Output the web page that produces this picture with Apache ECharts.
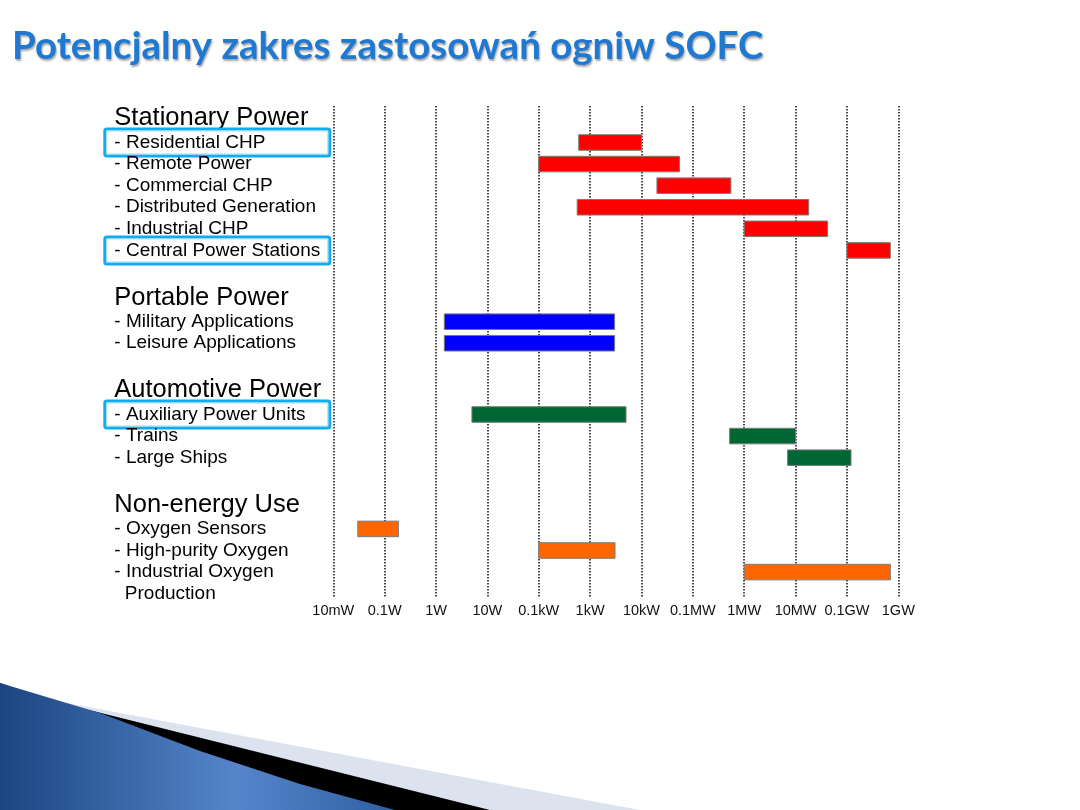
<!DOCTYPE html>
<html>
<head>
<meta charset="utf-8">
<script src="https://cdn.jsdelivr.net/npm/echarts@6/dist/echarts.min.js"></script>
<style>
  html, body { margin: 0; padding: 0; background: #fff; }
  #main { width: 1080px; height: 810px; }
</style>
</head>
<body>
<div id="main"></div>
<script>
// power in watts
var groupNames = ['Stationary Power', 'Portable Power', 'Automotive Power', 'Non-energy Use'];
var groupColors = ['#ff0000', '#0000ff', '#006633', '#ff6600'];

var stationaryItems = ['- Residential CHP', '- Remote Power', '- Commercial CHP', '- Distributed Generation', '- Industrial CHP', '- Central Power Stations'];
var stationaryFrom = [600, 100, 20000, 560, 1e6, 1e8];
var stationaryTo = [1e4, 55000, 550000, 1.8e7, 4.2e7, 7e8];

var portableItems = ['- Military Applications', '- Leisure Applications'];
var portableFrom = [1.45, 1.45];
var portableTo = [3000, 3000];

var automotiveItems = ['- Auxiliary Power Units', '- Trains', '- Large Ships'];
var automotiveFrom = [5, 5.2e5, 7e6];
var automotiveTo = [5000, 1e7, 1.2e8];

var nonEnergyItems = ['- Oxygen Sensors', '- High-purity Oxygen', '- Industrial Oxygen\n  Production'];
var nonEnergyFrom = [0.03, 100, 1e6];
var nonEnergyTo = [0.185, 3050, 7e8];

var highlighted = ['- Residential CHP', '- Central Power Stations', '- Auxiliary Power Units'];

var tickLabels = ['10mW', '0.1W', '1W', '10W', '0.1kW', '1kW', '10kW', '0.1MW', '1MW', '10MW', '0.1GW', '1GW'];

var groups = [
    [stationaryItems, stationaryFrom, stationaryTo],
    [portableItems, portableFrom, portableTo],
    [automotiveItems, automotiveFrom, automotiveTo],
    [nonEnergyItems, nonEnergyFrom, nonEnergyTo]
];

// rows: one unit per item, extra gap between groups
var GROUP_GAP = 2.3;
var HEADER_OFFSET = 1.2;
var barData = [];
var labelData = [];
var labelTexts = [];
var row = 0;
groups.forEach(function (g, gi) {
    var y0 = row + gi * GROUP_GAP;
    labelTexts.push(groupNames[gi]);
    labelData.push([y0 - HEADER_OFFSET, labelTexts.length - 1, 1, 0]);
    g[0].forEach(function (name, i) {
        var y = y0 + i;
        barData.push([Math.log10(g[1][i]), Math.log10(g[2][i]), y, gi]);
        labelTexts.push(name);
        labelData.push([y, labelTexts.length - 1, 0, highlighted.indexOf(name) >= 0 ? 1 : 0]);
    });
    row += g[0].length;
});

var myChart = echarts.init(document.getElementById('main'));

var option = {
    backgroundColor: '#ffffff',
    animation: false,
    grid: {
        left: 333.3,
        right: 181.7,
        top: 106,
        bottom: 212
    },
    xAxis: {
        type: 'value',
        min: -2,
        max: 9,
        interval: 1,
        axisLine: { show: false },
        axisTick: { show: false },
        axisLabel: {
            margin: 5,
            color: '#111',
            fontSize: 14.5,
            fontFamily: 'Liberation Sans',
            formatter: function (v) { return tickLabels[Math.round(v) + 2]; }
        },
        splitLine: {
            show: true,
            lineStyle: { type: [1.5, 1.5], color: '#111', width: 1.5 }
        }
    },
    yAxis: {
        type: 'value',
        inverse: true,
        min: -1.69,
        max: 21.1,
        show: false
    },
    series: [{
        type: 'custom',
        name: 'ranges',
        data: barData,
        encode: { x: [0, 1], y: 2 },
        renderItem: function (params, api) {
            var a = api.coord([api.value(0), api.value(2)]);
            var b = api.coord([api.value(1), api.value(2)]);
            var h = api.size([0, 0.72])[1];
            return {
                type: 'rect',
                shape: { x: a[0], y: a[1] - h / 2, width: b[0] - a[0], height: h },
                style: { fill: groupColors[api.value(3)], stroke: '#7a7a7a', lineWidth: 1 }
            };
        }
    }, {
        type: 'custom',
        name: 'labels',
        data: labelData,
        encode: { y: 0 },
        renderItem: function (params, api) {
            var y = api.coord([0, api.value(0)])[1];
            var x = params.coordSys.x - 219;
            var isHeader = api.value(2) === 1;
            var children = [];
            if (api.value(3) === 1) {
                children.push({
                    type: 'rect',
                    shape: { x: x - 9.5, y: y - 13.5, width: 225, height: 27, r: 2 },
                    style: { fill: 'none', stroke: '#12aaf0', lineWidth: 3 }
                });
                children.push({
                    type: 'rect',
                    shape: { x: x - 7.5, y: y - 11.5, width: 221, height: 23 },
                    style: { fill: 'none', stroke: '#9edcf7', lineWidth: 1 }
                });
            }
            var lh = 21.5;
            children.push({
                type: 'text',
                style: {
                    x: x,
                    y: y - lh / 2,
                    text: labelTexts[api.value(1)],
                    fill: '#000',
                    fontFamily: 'Liberation Sans',
                    fontSize: isHeader ? 25.5 : 19,
                    lineHeight: isHeader ? 28 : lh,
                    verticalAlign: 'top',
                    align: 'left'
                },
                y: isHeader ? -1.5 : 0
            });
            return { type: 'group', children: children };
        }
    }],
    graphic: [{
        type: 'polygon',
        shape: { points: [[0, 683], [45, 699], [640, 810], [0, 810]] },
        style: { fill: '#dce3ef' }
    }, {
        type: 'polygon',
        shape: { points: [[0, 683], [45, 699], [490, 810], [0, 810]] },
        style: { fill: '#000000' }
    }, {
        type: 'polygon',
        shape: { points: [[0, 683], [100, 713], [200, 751], [300, 784], [395, 810], [0, 810]] },
        style: {
            fill: {
                type: 'linear', x: 0, y: 0, x2: 1, y2: 0,
                colorStops: [
                    { offset: 0, color: '#1a4680' },
                    { offset: 0.6, color: '#5685cb' },
                    { offset: 1, color: '#2f5fa3' }
                ]
            }
        }
    }, {
        type: 'text',
        style: {
            x: 12,
            y: 47,
            text: 'Potencjalny zakres zastosowań ogniw SOFC',
            fontFamily: 'Lato',
            fontWeight: 'bold',
            fontSize: 38.5,
            verticalAlign: 'middle',
            fill: '#1f78d2',
            textShadowColor: 'rgba(0,0,0,0.35)',
            textShadowBlur: 2,
            textShadowOffsetX: 1,
            textShadowOffsetY: 2
        }
    }]
};

myChart.setOption(option);
</script>
</body>
</html>
